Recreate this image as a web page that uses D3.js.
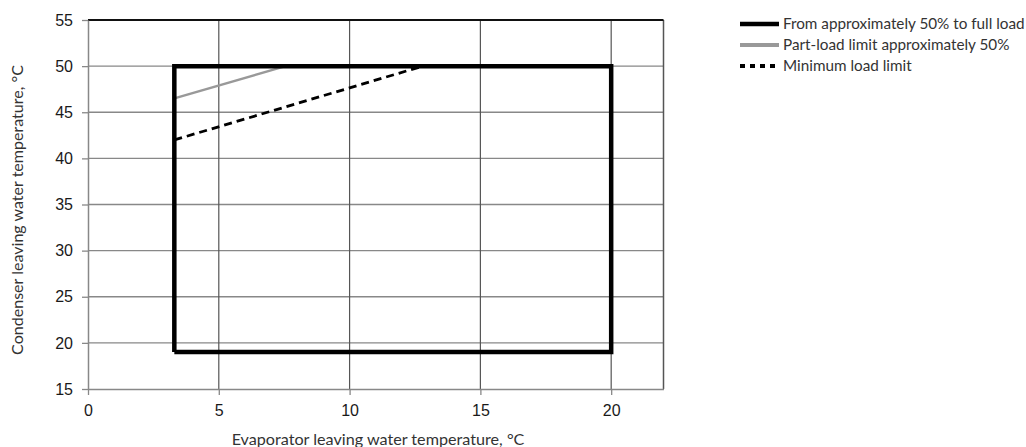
<!DOCTYPE html>
<html><head><meta charset="utf-8">
<script src="https://cdn.jsdelivr.net/npm/d3@7"></script>
<style>body{margin:0;background:#fff}</style>
</head><body>
<svg id="c" width="1026" height="447"></svg>
<script>
const xTicks = [0, 5, 10, 15, 20];
const yTicks = [15, 20, 25, 30, 35, 40, 45, 50, 55];
const fullLoad = [[3.3, 19], [20, 19], [20, 50], [3.3, 50], [3.3, 19]];
const partLoad = [[3.3, 46.5], [7.55, 50]];
const minLoad = [[3.3, 42], [12.8, 50]];
const legendLabels = ["From approximately 50% to full load", "Part-load limit approximately 50%", "Minimum load limit"];
const xTitle = "Evaporator leaving water temperature, °C";
const yTitle = "Condenser leaving water temperature, °C";

const svg = d3.select("#c");
const L = 88, R = 663.5, T = 20, B = 389;
const x = d3.scaleLinear().domain([0, 22]).range([L, R]);
const y = d3.scaleLinear().domain([15, 55]).range([B, T]);

// grid
svg.append("g").selectAll("line").data(yTicks.slice(1, -1)).join("line")
  .attr("x1", L).attr("x2", R).attr("y1", d => y(d)).attr("y2", d => y(d))
  .attr("stroke", "#888").attr("stroke-width", 1.3);
svg.append("g").selectAll("line").data(xTicks.slice(1)).join("line")
  .attr("y1", T).attr("y2", B).attr("x1", d => x(d)).attr("x2", d => x(d))
  .attr("stroke", "#555").attr("stroke-width", 1.2);
svg.append("line").attr("x1", R).attr("x2", R).attr("y1", T).attr("y2", B).attr("stroke", "#555").attr("stroke-width", 1.5);
svg.append("line").attr("x1", L).attr("x2", R).attr("y1", T).attr("y2", T).attr("stroke", "#111").attr("stroke-width", 2);

const xa = svg.append("g").attr("transform", `translate(0,${B})`)
  .call(d3.axisBottom(x).tickValues(xTicks).tickSize(6).tickPadding(10).tickSizeOuter(0));
const ya = svg.append("g").attr("transform", `translate(${L},0)`)
  .call(d3.axisLeft(y).tickValues(yTicks).tickSize(6).tickPadding(9).tickSizeOuter(0));
[xa, ya].forEach(a => {
  a.select(".domain").attr("stroke", "#888").attr("stroke-width", 1.5);
  a.selectAll(".tick line").attr("stroke", "#888").attr("stroke-width", 1.3);
  a.selectAll(".tick text").attr("font-family", "Liberation Sans, Arial, sans-serif").attr("font-size", 16).attr("fill", "#1a1a1a");
});

const line = d3.line().x(d => x(d[0])).y(d => y(d[1]));
svg.append("path").attr("d", line(partLoad)).attr("fill", "none").attr("stroke", "#999").attr("stroke-width", 2.5);
svg.append("path").attr("d", line(minLoad)).attr("fill", "none").attr("stroke", "#000").attr("stroke-width", 2.8).attr("stroke-dasharray", "8,5");
svg.append("path").attr("d", line(fullLoad)).attr("fill", "none").attr("stroke", "#000").attr("stroke-width", 4.5).attr("stroke-linejoin", "miter");

const tf = "Lato, Open Sans, sans-serif";
function fit(sel, target) {
  const w = sel.node().getComputedTextLength();
  const fs = parseFloat(sel.attr("font-size"));
  sel.attr("font-size", fs * target / w);
}
const xt = svg.append("text").attr("x", 378).attr("y", 445).attr("text-anchor", "middle")
  .attr("font-family", tf).attr("font-size", 15).attr("fill", "#333").text(xTitle);
fit(xt, 293);
const yt = svg.append("text").attr("transform", "translate(23,210) rotate(-90)").attr("text-anchor", "middle")
  .attr("font-family", tf).attr("font-size", 15).attr("fill", "#333").text(yTitle);
fit(yt, 290);

const styles = [
  {stroke: "#000", w: 4.5, dash: null},
  {stroke: "#999", w: 4, dash: null},
  {stroke: "#000", w: 4, dash: "5,5"}
];
const lg = svg.append("g");
let legFs = null;
legendLabels.forEach((t, i) => {
  const cy = 24 + i * 21;
  lg.append("line").attr("x1", 740).attr("x2", 779).attr("y1", cy).attr("y2", cy)
    .attr("stroke", styles[i].stroke).attr("stroke-width", styles[i].w).attr("stroke-dasharray", styles[i].dash);
  const tx = lg.append("text").attr("x", 783).attr("y", cy + 5).attr("font-family", tf).attr("font-size", 14)
    .attr("fill", "#333").text(t);
  if (i === 0) { fit(tx, 242); legFs = tx.attr("font-size"); } else tx.attr("font-size", legFs);
});
</script>
</body></html>
